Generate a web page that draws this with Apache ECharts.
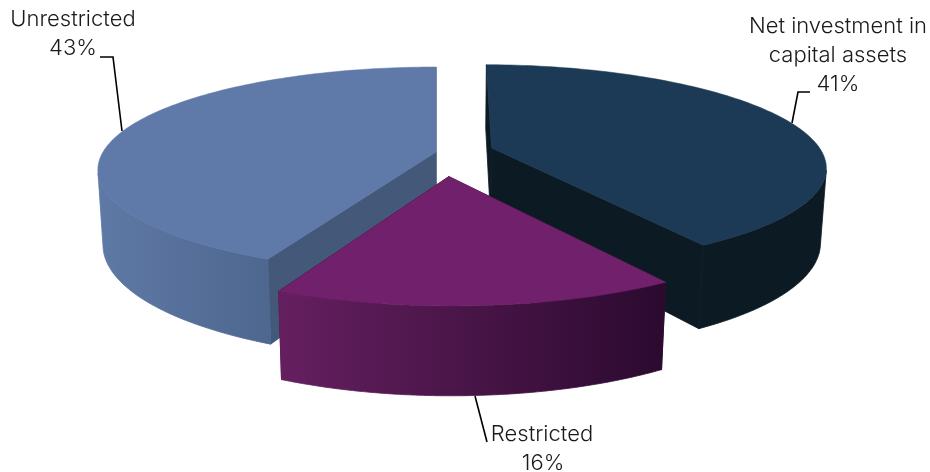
<!DOCTYPE html>
<html><head><meta charset="utf-8">
<style>html,body{margin:0;padding:0;background:#fff}#c{width:930px;height:472px}</style>
<script src="https://cdn.jsdelivr.net/npm/echarts@6/dist/echarts.min.js"></script>
</head><body><div id="c"></div>
<script>
// Data, clockwise from the first slice's start angle
const categories = ['Unrestricted', 'Net investment in\ncapital assets', 'Restricted'];
const shares = [43, 41, 16];
// Styling per slice
const topColors = ['#5f7aa9', '#1c3a55', '#71216b'];
const innerColors = ['#44587a', '#0c1a23', '#3a1238'];
const wallFrom = ['#5f79a6', '#0c1a23', '#651f60'];
const wallTo = ['#4e678f', '#0c1a23', '#2b0a2e'];
// Layout per slice: explosion in the pie's plane, radius scale, rotation in degrees
const explodeX = [0, 0.168, 0.037];
const explodeY = [0, -0.04, 0.236];
const radiusScale = [1, 0.992, 0.98];
const rotateDeg = [0, 0.6, 0];
// Projection layout
const OX = 436, OY = 152, F = 333, G = 99.8, K = 0.174, H = 74.5, M = 0.015;
const SILHOUETTE = -0.2;

function project(X, Y, Z) {
  const d = 1 - K * Y + M * Z;
  return [OX + F * X / d, OY + (G * Y + H * Z) / d];
}
function renderSlice(params, api) {
  const i = api.value(0);
  let before = 0;
  for (let j = 0; j < i; j++) before += shares[j];
  const start = ((before - shares[0]) * 3.6 + rotateDeg[i]) * Math.PI / 180;
  const sweep = shares[i] * 3.6 * Math.PI / 180;
  const ox = explodeX[i], oy = explodeY[i], r = radiusScale[i];
  const N = 120, topArc = [], botArc = [], frontTop = [], frontBot = [];
  for (let s = 0; s <= N; s++) {
    const a = start + sweep * s / N;
    const X = ox + r * Math.sin(a), Y = oy - r * Math.cos(a);
    const pt = project(X, Y, 0), pb = project(X, Y, 1);
    topArc.push(pt);
    botArc.push(pb);
    if (Math.cos(a) < SILHOUETTE) { frontTop.push(pt); frontBot.push(pb); }
  }
  const cTop = project(ox, oy, 0), cBot = project(ox, oy, 1);
  const poly = (points, fill, lw) => ({
    type: 'polygon', shape: { points }, silent: true,
    style: { fill, stroke: fill, lineWidth: lw }
  });
  const grad = new echarts.graphic.LinearGradient(0, 0, 1, 0, [
    { offset: 0, color: wallFrom[i] }, { offset: 1, color: wallTo[i] }
  ]);
  return {
    type: 'group',
    children: [
      poly([cTop, topArc[0], botArc[0], cBot], innerColors[i], 0.8),
      poly([cTop, topArc[N], botArc[N], cBot], innerColors[i], 0.8),
      poly(frontTop.concat(frontBot.slice().reverse()), grad, 0.8),
      poly([cTop].concat(topArc), topColors[i], 0.5)
    ]
  };
}
const FONT = { fontFamily: 'Inter, Roboto, sans-serif', fontWeight: 300, fontSize: 22, fill: '#1a1a1a', align: 'center', verticalAlign: 'middle' };
const txt = (s, x, base) => ({ type: 'text', x, y: base - 7.5, silent: true, style: Object.assign({ text: s }, FONT) });
const lead = pts => ({ type: 'polyline', silent: true, shape: { points: pts }, style: { stroke: '#000', lineWidth: 1.6, fill: null } });
const pct = i => shares[i] + '%';
const netLines = categories[1].split('\n');

const chart = echarts.init(document.getElementById('c'));
chart.setOption({
  animation: false,
  backgroundColor: '#fff',
  series: [{
    type: 'custom', coordinateSystem: 'none', renderItem: renderSlice,
    data: shares.map((v, i) => [i, v])
  }],
  graphic: [
    lead([[100, 57], [113, 57], [122, 131]]),
    lead([[810, 92], [798, 92], [792, 123]]),
    lead([[475, 396], [487, 442]]),
    txt(categories[0], 73, 27), txt(pct(0), 73, 56),
    txt(netLines[0], 838, 34), txt(netLines[1], 838, 63), txt(pct(1), 838, 92),
    txt(categories[2], 542, 442), txt(pct(2), 543, 471)
  ]
});
</script></body></html>
